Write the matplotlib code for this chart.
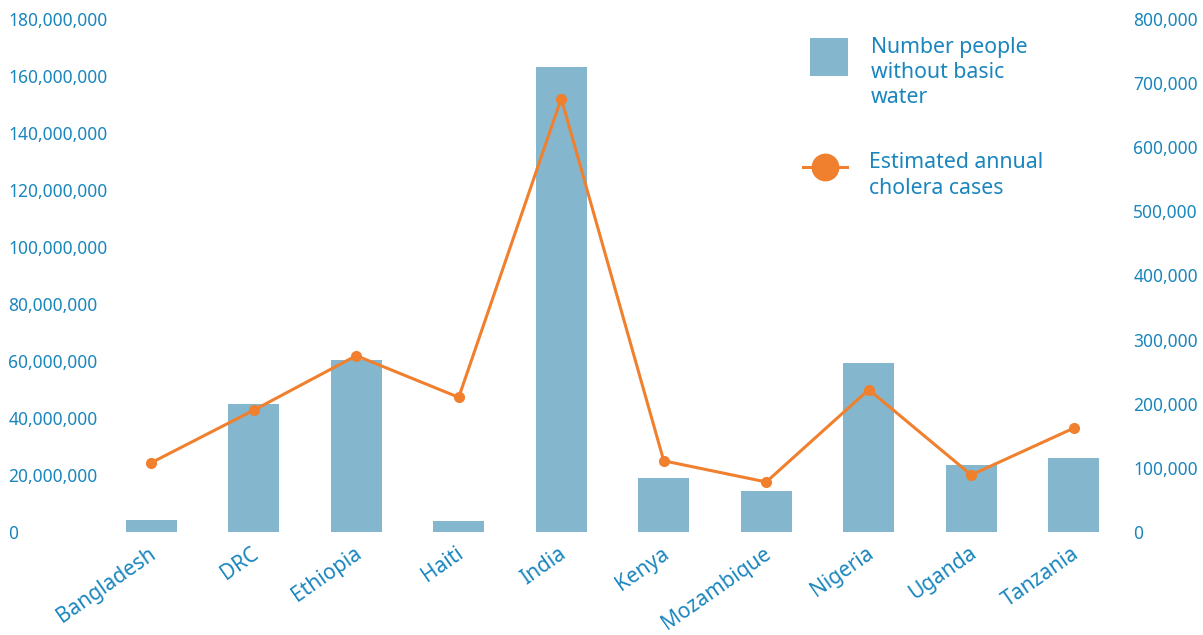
# Librerías
import matplotlib
matplotlib.use("Agg")
import matplotlib.pyplot as plt
import matplotlib.transforms as mtransforms
import numpy as np
from matplotlib.lines import Line2D
from matplotlib.patches import Rectangle
from matplotlib.ticker import FuncFormatter

plt.rcParams["font.family"] = ["Noto Sans", "DejaVu Sans"]

# Datos
paises = ["Bangladesh", "DRC", "Ethiopia", "Haiti", "India",
          "Kenya", "Mozambique", "Nigeria", "Uganda", "Tanzania"]
sin_agua = [4.2e6, 45.0e6, 60.5e6, 3.9e6, 163.3e6,
            19.0e6, 14.4e6, 59.3e6, 23.6e6, 26.0e6]
colera = [108000, 190000, 275000, 210000, 676000,
          111000, 78000, 222000, 89000, 162000]

azul_txt = "#1a86bd"
azul_barra = "#84b6cd"
naranja = "#f0802e"

W, H = 1203, 635
fig = plt.figure(figsize=(W / 100, H / 100), dpi=100)
ax = fig.add_axes([100 / W, 103 / H, 1025 / W, 513 / H])
ax2 = ax.twinx()

x = np.arange(len(paises))
ax.bar(x, sin_agua, width=0.5, color=azul_barra, zorder=1)
ax2.plot(x, colera, color=naranja, lw=2.2, marker="o", ms=7, zorder=3)

ax.set_xlim(-0.5, len(paises) - 0.5)
ax.set_ylim(0, 180e6)
ax2.set_ylim(0, 800000)
ax.set_yticks(np.arange(0, 180e6 + 1, 20e6))
ax2.set_yticks(np.arange(0, 800001, 100000))
fmt = FuncFormatter(lambda v, p: f"{int(v):,}")
ax.yaxis.set_major_formatter(fmt)
ax2.yaxis.set_major_formatter(fmt)

ax.set_xticks(x)
ax.set_xticklabels(paises, rotation=35, ha="right", va="center",
                   rotation_mode="anchor", fontsize=15, color=azul_txt)
ax.tick_params(axis="x", length=0, pad=14)
# pequeño ajuste horizontal de las etiquetas del eje x
desp = mtransforms.ScaledTranslation(3 / 100, 0, fig.dpi_scale_trans)
for lab in ax.get_xticklabels():
    lab.set_transform(lab.get_transform() + desp)
ax.tick_params(axis="y", length=0, pad=66, labelsize=12.5, labelcolor=azul_txt)
for lab in ax.get_yticklabels():
    lab.set_ha("left")
ax2.tick_params(axis="y", length=0, pad=6, labelsize=12.5, labelcolor=azul_txt)

for a in (ax, ax2):
    for s in a.spines.values():
        s.set_visible(False)

# Leyenda dibujada a mano (coordenadas de figura)
fig.patches.append(Rectangle((810 / W, 1 - 76 / H), 38 / W, 38 / H,
                             transform=fig.transFigure, facecolor=azul_barra,
                             edgecolor="none"))
fig.lines.append(Line2D([803 / W, 847 / W], [1 - 167 / H, 1 - 167 / H],
                        transform=fig.transFigure, color=naranja, lw=2.2))
fig.lines.append(Line2D([825 / W], [1 - 167 / H], transform=fig.transFigure,
                        color=naranja, marker="o", ms=19, lw=0))
fig.text(871 / W, 1 - 72.5 / H, "Number people\nwithout basic\nwater",
         fontsize=15.3, color=azul_txt, va="center", ha="left", linespacing=1.25)
fig.text(869 / W, 1 - 175.5 / H, "Estimated annual\ncholera cases",
         fontsize=15.3, color=azul_txt, va="center", ha="left", linespacing=1.25)

fig.savefig("out.png", dpi=100)
